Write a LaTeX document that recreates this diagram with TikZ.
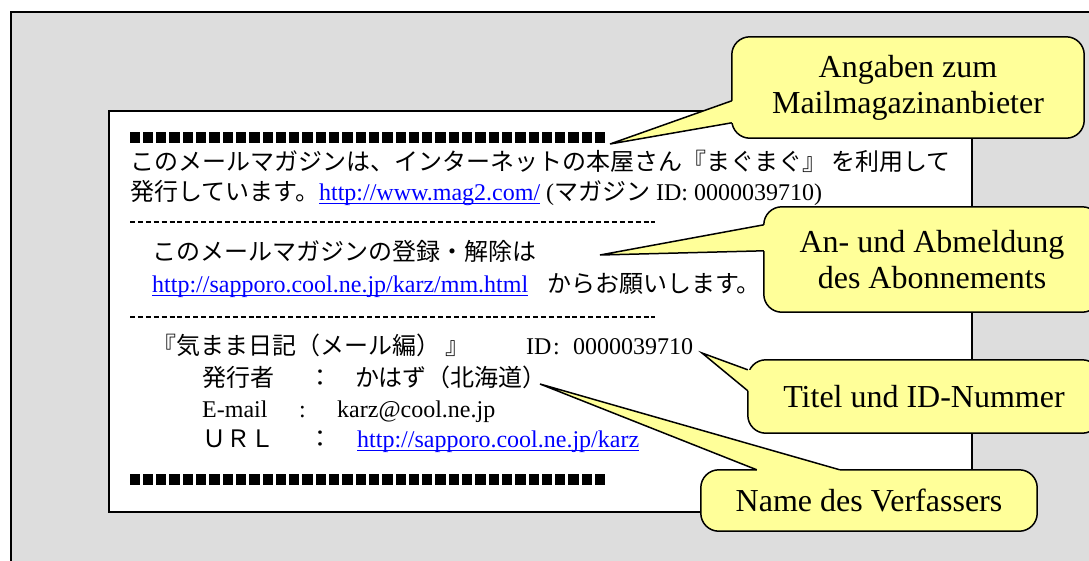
\documentclass[tikz,border=0pt]{standalone}
\usepackage{fontspec}
\setmainfont{Liberation Serif}
\newfontfamily\jp{Noto Sans CJK JP}
\usetikzlibrary{calc}
\definecolor{bggray}{HTML}{DDDDDD}
\definecolor{callyellow}{HTML}{FFFF99}
\definecolor{linkblue}{HTML}{0000FF}
\newcommand\weblink[1]{{\color{linkblue}\setbox0\hbox{#1}\rlap{\rule[-4pt]{\wd0}{1.3pt}}\box0}}
\pgfdeclarelayer{back}
\pgfdeclarelayer{mid}
\pgfsetlayers{back,mid,main}
\tikzset{
  txt/.style={anchor=base west, inner sep=0pt, font=\fontsize{24}{30}\selectfont},
  calltext/.style={align=center, inner sep=0pt, font=\fontsize{32}{36}\selectfont},
  callbox/.style={draw=black, fill=callyellow, line width=1.5pt, rounded corners=18pt},
  wedgefill/.style={fill=callyellow, draw=none},
  wedgeline/.style={draw=black, line width=1.5pt, line join=miter},
  dashline/.style={draw=black, line width=1.1pt, dash pattern=on 5pt off 2.9pt},
  sq/.style={fill=black},
}
\begin{document}
\begin{tikzpicture}[x=1pt,y=-1pt]
\useasboundingbox (0,0) rectangle (1089,560);
\begin{pgfonlayer}{back}
\draw[fill=bggray, line width=2pt] (11,12) rectangle (1110,580);
\node[draw=black, fill=white, line width=2pt, minimum width=863pt, minimum height=401pt, inner sep=0pt, anchor=north west] (mail) at (108,110) {};
\foreach \i in {0,...,35} {
  \fill[sq] (129.5+\i*13.3,132) rectangle ++(10.3,10.8);
  \fill[sq] (129.5+\i*13.3,474) rectangle ++(10.3,10.8);
}
\node[txt] (l1) at (130,170) {\jp このメールマガジンは、インターネットの本屋さん『まぐまぐ』 を利用して};
\node[txt] (l2) at (130,200) {{\jp 発行しています。}\weblink{http://www.mag2.com/} ({\jp マガジン} ID: 0000039710)};
\draw[dashline] (130,222) -- (655,222);
\node[txt] (l3) at (152,260) {\jp このメールマガジンの登録・解除は};
\node[txt] (l4a) at (152,292) {\weblink{http://sapporo.cool.ne.jp/karz/mm.html}};
\node[txt] (l4b) at (547,292) {\jp からお願いします。};
\draw[dashline] (130,317) -- (655,317);
\node[txt] (l5a) at (152,354) {\jp 『気まま日記（メール編） 』};
\node[txt] (l5b) at (526,354) {ID\hspace{1.5pt}:\hspace{13.5pt}0000039710};
\node[txt] (l6a) at (202,386) {\jp 発行者};
\node[txt] (l6b) at (308,386) {\jp ：};
\node[txt] (l6c) at (355,386) {\jp かはず（北海道）};
\node[txt] (l7a) at (202,417) {E-mail};
\node[txt] (l7b) at (299,417) {:};
\node[txt] (l7c) at (337,417) {karz@cool.ne.jp};
\node[txt] (l8a) at (202,447) {\jp ＵＲＬ};
\node[txt] (l8b) at (308,447) {\jp ：};
\node[txt] (l8c) at (357,447) {\weblink{http://sapporo.cool.ne.jp/karz}};
\end{pgfonlayer}

% callout texts
\node[calltext, minimum width=352pt, minimum height=101pt] (c1) at (908,87.5) {Angaben zum\\Mailmagazinanbieter};
\node[calltext, minimum width=336pt, minimum height=105pt] (c2) at (932,259.5) {An- und Abmeldung\\des Abonnements};
\node[calltext, minimum width=352pt, minimum height=73pt] (c3) at (924,396.5) {Titel und ID-Nummer};
\node[calltext, minimum width=336pt, minimum height=61pt] (c4) at (869,500.5) {Name des Verfassers};

\coordinate (t1) at (610,144);
\coordinate (t2) at (600,255);
\coordinate (t3) at (702,353);
\coordinate (t4) at (540,384);

\begin{pgfonlayer}{mid}
% callout 1
\path[callbox] (c1.north west) rectangle (c1.south east);
\fill[wedgefill] (t1) -- ($(c1.north west)+(0,64)$) -- ($(c1.north west)+(5,64)$) -- ($(c1.north west)+(5,86)$) -- ($(c1.north west)+(0,86)$) -- cycle;
\draw[wedgeline] ($(c1.north west)+(0,64)$) -- (t1) -- ($(c1.north west)+(0,86)$);
% callout 2
\path[callbox] (c2.north west) rectangle (c2.south east);
\fill[wedgefill] (t2) -- ($(c2.north west)+(0,18)$) -- ($(c2.north west)+(5,18)$) -- ($(c2.north west)+(5,44)$) -- ($(c2.north west)+(0,44)$) -- cycle;
\draw[wedgeline] ($(c2.north west)+(0,18)$) -- (t2) -- ($(c2.north west)+(0,44)$);
% callout 3
\path[callbox] (c3.north west) rectangle (c3.south east);
\fill[wedgefill] (t3) -- ($(c3.north west)+(0,10)$) -- ($(c3.north west)+(5,10)$) -- ($(c3.north west)+(5,31)$) -- ($(c3.north west)+(0,31)$) -- cycle;
\draw[wedgeline] ($(c3.north west)+(0,10)$) -- (t3) -- ($(c3.north west)+(0,31)$);
% callout 4
\path[callbox] (c4.north west) rectangle (c4.south east);
\fill[wedgefill] (t4) -- ($(c4.north west)+(56,0)$) -- ($(c4.north west)+(56,5)$) -- ($(c4.north west)+(139,5)$) -- ($(c4.north west)+(139,0)$) -- cycle;
\draw[wedgeline] ($(c4.north west)+(56,0)$) -- (t4) -- ($(c4.north west)+(139,0)$);
\end{pgfonlayer}
\end{tikzpicture}
\end{document}
